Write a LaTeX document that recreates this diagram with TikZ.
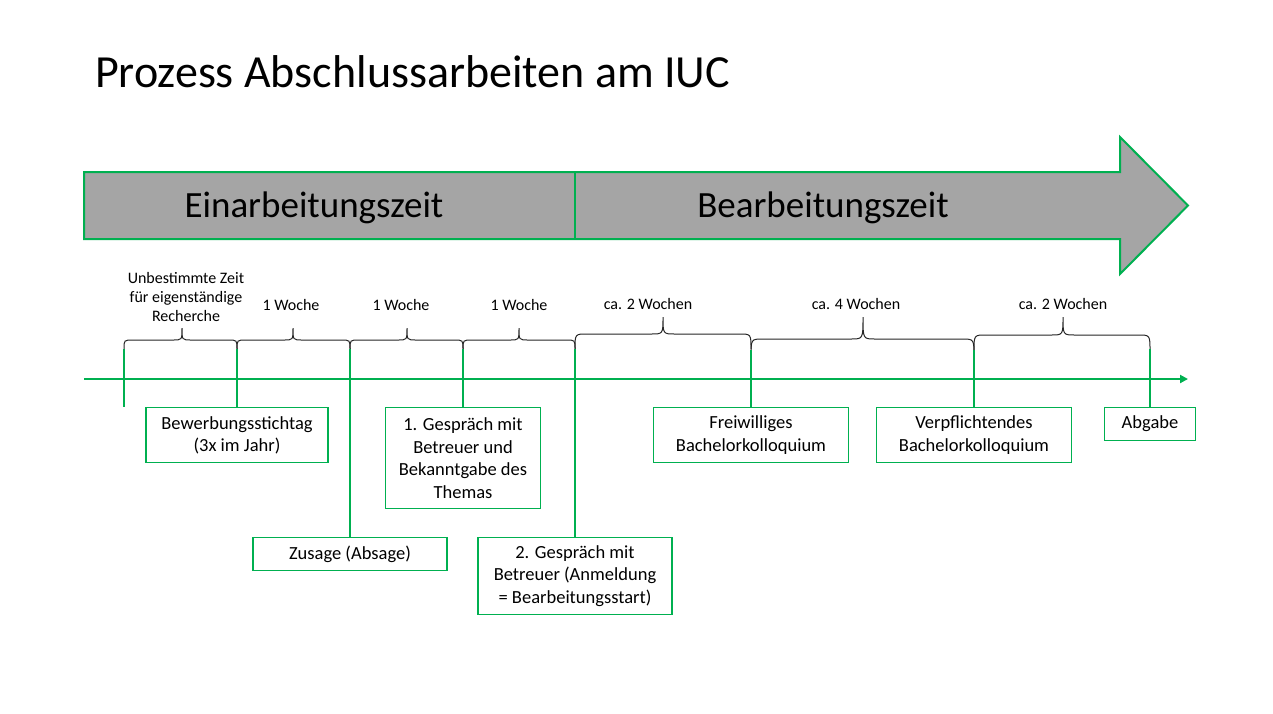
\documentclass[tikz,border=0pt]{standalone}
\usepackage{fontspec}
\setmainfont{Carlito}
\usetikzlibrary{arrows.meta}
\definecolor{pptgreen}{HTML}{00B050}
\definecolor{pptgray}{HTML}{A5A5A5}
\newcommand\mybrace[7]{% x0 x1 xtip yEnd yFlat yTip r
  \draw[bracepath] (#1,#4) .. controls (#1,#5) .. ({#1+#7},#5) -- ({#3-#7},#5)
    .. controls (#3,#5) .. (#3,#6) .. controls (#3,#5) .. ({#3+#7},#5)
    -- ({#2-#7},#5) .. controls (#2,#5) .. (#2,#4);}
\begin{document}
\begin{tikzpicture}[x=1pt,y=-1pt,
  box/.style={draw=pptgreen, line width=1.2pt, fill=white, align=center,
    font=\fontsize{18.5}{22.5}\selectfont, inner sep=0pt, anchor=north},
  tick/.style={draw=pptgreen, line width=2pt},
  bracepath/.style={draw=black!85, line width=1pt},
  small/.style={font=\fontsize{16}{19}\selectfont, align=center, inner sep=0pt},
  phase/.style={font=\fontsize{37}{44}\selectfont, inner sep=0pt, anchor=base}
]
\useasboundingbox (0,0) rectangle (1273,713);
\fill[white] (0,0) rectangle (1273,713);

% title
\node[anchor=base west, font=\fontsize{46}{55}\selectfont, inner sep=0pt] (title) at (95,87) {Prozess Abschlussarbeiten am IUC};

% big arrow
\draw[fill=pptgray, draw=pptgreen, line width=2pt] (84,172) -- (1120,172) -- (1120,137) -- (1188,205.5) -- (1120,274) -- (1120,239) -- (84,239) -- cycle;
\draw[pptgreen, line width=2pt] (575,172) -- (575,239);
\node[phase] (ph1) at (314,217) {Einarbeitungszeit};
\node[phase] (ph2) at (823,217) {Bearbeitungszeit};

% timeline
\coordinate (ls) at (84,379);
\coordinate (le) at (1188,379);
\draw[pptgreen, line width=2pt, -{Triangle[length=8pt,width=8pt]}] (ls) -- (le);

% braces
\mybrace{124}{237}{182}{349}{340}{328}{9}
\mybrace{237}{350}{293}{349}{340}{328}{9}
\mybrace{350}{463}{407}{349}{340}{328}{9}
\mybrace{463}{575}{519}{349}{340}{328}{9}
\mybrace{575}{751}{663}{349}{334}{317}{12}
\mybrace{751}{974}{863}{357}{339}{317}{12}
\mybrace{974}{1150}{1063}{351}{335}{317}{12}

% brace labels
\node[small] (l0) at (186,297) {Unbestimmte Zeit\\für eigenständige\\Recherche};
\node[small, anchor=base] (l1) at (291,310) {1 Woche};
\node[small, anchor=base] (l2) at (401,310) {1 Woche};
\node[small, anchor=base] (l3) at (519,310) {1 Woche};
\node[small, anchor=base] (l4) at (648,309) {ca. 2 Wochen};
\node[small, anchor=base] (l5) at (856,309) {ca. 4 Wochen};
\node[small, anchor=base] (l6) at (1063,309) {ca. 2 Wochen};

% boxes
\node[box, minimum width=182pt, minimum height=55pt] (b1) at (237,407) {Bewerbungsstichtag\\(3x im Jahr)};
\node[box, minimum width=155pt, minimum height=101pt] (b2) at (463,407) {1. Gespräch mit\\Betreuer und\\Bekanntgabe des\\Themas};
\node[box, minimum width=194pt, minimum height=33pt] (b3) at (350,537) {Zusage (Absage)};
\node[box, minimum width=194pt, minimum height=77pt] (b4) at (575,537) {2. Gespräch mit\\Betreuer (Anmeldung\\= Bearbeitungsstart)};
\node[box, minimum width=195pt, minimum height=55pt] (b5) at (751,407) {Freiwilliges\\Bachelorkolloquium};
\node[box, minimum width=195pt, minimum height=55pt] (b6) at (974,407) {Verpflichtendes\\Bachelorkolloquium};
\node[box, minimum width=91pt, minimum height=33pt] (b7) at (1150,407) {Abgabe};

% ticks
\coordinate (t0) at (124,349); \coordinate (e0) at (124,407);
\coordinate (t1) at (237,349);
\coordinate (t2) at (350,349);
\coordinate (t3) at (463,349);
\coordinate (t4) at (575,349);
\coordinate (t5) at (751,350);
\coordinate (t6) at (974,350);
\coordinate (t7) at (1150,349);
\draw[tick] (t0) -- (e0);
\draw[tick] (t1) -- (b1.north);
\draw[tick] (t2) -- (b3.north);
\draw[tick] (t3) -- (b2.north);
\draw[tick] (t4) -- (b4.north);
\draw[tick] (t5) -- (b5.north);
\draw[tick] (t6) -- (b6.north);
\draw[tick] (t7) -- (b7.north);
\end{tikzpicture}
\end{document}
